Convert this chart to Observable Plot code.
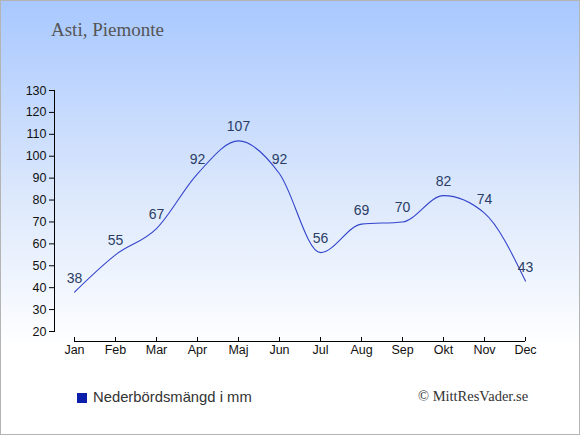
<!DOCTYPE html>
<html><head><meta charset="utf-8">
<script src="https://cdn.jsdelivr.net/npm/d3@7"></script>
<script src="https://cdn.jsdelivr.net/npm/@observablehq/plot@0.6"></script>
<style>
html,body{margin:0;padding:0;}
#wrap{position:relative;width:580px;height:435px;overflow:hidden;
  background:linear-gradient(to bottom,#a8c8ff 0%,#dce8fc 45%,#ffffff 80%,#ffffff 100%);}
#border{position:absolute;left:0;top:0;width:578px;height:433px;border:1px solid #b4b4b4;pointer-events:none;}
#title{position:absolute;left:51px;top:19px;font-family:"Liberation Serif",serif;font-size:19px;color:#555;}
#legend{position:absolute;left:77px;top:389px;font-family:"Liberation Sans",Arial,sans-serif;font-size:14.8px;color:#333;}
#legend span.sw{display:inline-block;width:10px;height:10px;background:#0b1faa;margin-right:6px;vertical-align:-1px;}
#copy{position:absolute;left:418px;top:388px;font-family:"Liberation Serif",serif;font-size:14.5px;color:#333;}
#chart{position:absolute;left:0;top:0;}
</style></head>
<body>
<div id="wrap">
  <div id="chart"></div>
  <div id="title">Asti, Piemonte</div>
  <div id="legend"><span class="sw"></span>Nederbördsmängd i mm</div>
  <div id="copy">© MittResVader.se</div>
  <div id="border"></div>
</div>
<script>
const months = ["Jan","Feb","Mar","Apr","Maj","Jun","Jul","Aug","Sep","Okt","Nov","Dec"];
const precip = [38,55,67,92,107,92,56,69,70,82,74,43];
const yTicks = [20,30,40,50,60,70,80,90,100,110,120,130];

const data = months.map((m,i)=>({month:m, value:precip[i]}));

const chart = Plot.plot({
  width:580, height:435,
  marginTop:90, marginBottom:104, marginLeft:54, marginRight:55,
  style:{background:"transparent", fontFamily:"Liberation Sans, Arial, sans-serif", color:"#111"},
  x:{type:"point", domain:months, range:[74,525], padding:0},
  y:{domain:[20,130]},
  marks:[
    Plot.frame({anchor:"left", stroke:"#000"}),
    Plot.axisY({ticks:yTicks, tickSize:5, tickPadding:3, fontSize:12.5, label:null, stroke:"#000", fill:"#111"}),
    Plot.axisX({tickSize:0, tickPadding:14, fontSize:12.5, label:null, fill:"#111"}),
    Plot.ruleY([20], {x1:()=>months[0], x2:()=>months[months.length-1], dy:10, stroke:"#000"}),
    Plot.ruleX(months, {x:d=>d, dy:10, insetTop:237, stroke:"#000"}),
    Plot.line(data, {x:"month", y:"value", curve:"monotone-x", stroke:"#3344cc", strokeWidth:1.1}),
    Plot.text(data, {x:"month", y:"value", text:d=>String(d.value), dy:-14, fontSize:14, fill:"#2a3d66"})
  ]
});
document.getElementById("chart").appendChild(chart);
</script>
</body></html>
